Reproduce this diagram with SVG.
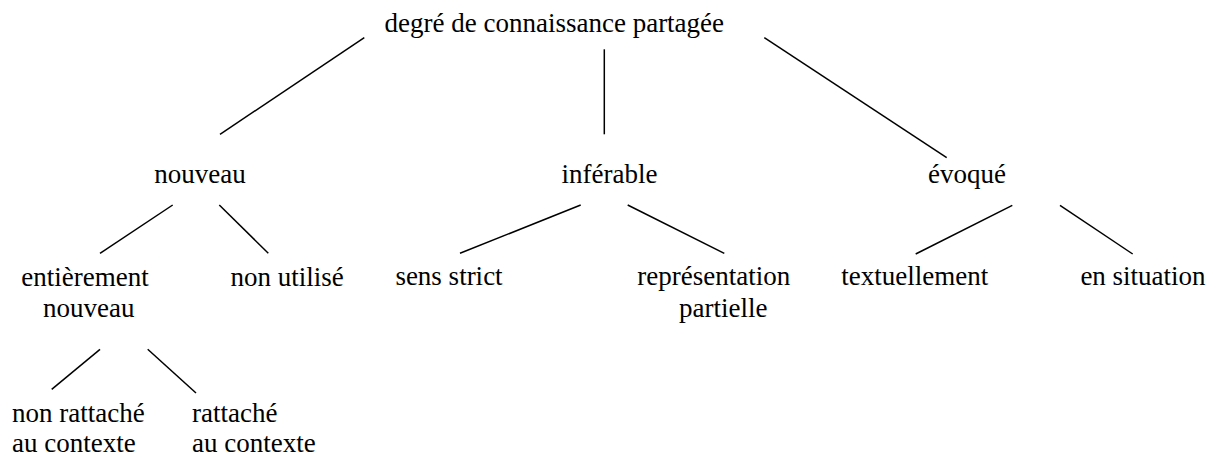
<svg xmlns="http://www.w3.org/2000/svg" width="1222" height="458" viewBox="0 0 1222 458">
<style>
text{font-family:'Liberation Serif','Times New Roman',serif;font-size:27px;fill:#000}
.m{text-anchor:middle}
.c line{stroke:#000;stroke-width:1.5;fill:none}
</style>
<rect width="1222" height="458" fill="#fff"/>
<g class="c" id="connectors">
<line x1="364.3" y1="37.7" x2="220" y2="134.3"/>
<line x1="604.3" y1="49.3" x2="604.3" y2="134.3"/>
<line x1="764.3" y1="37.7" x2="946.7" y2="157.7"/>
<line x1="172.7" y1="205" x2="100" y2="253.3"/>
<line x1="219.3" y1="205" x2="268.3" y2="253.3"/>
<line x1="580.7" y1="205" x2="460" y2="253.3"/>
<line x1="627.7" y1="205" x2="724.3" y2="253.3"/>
<line x1="1012.3" y1="205.3" x2="915.7" y2="254"/>
<line x1="1060" y1="205.3" x2="1132.7" y2="254"/>
<line x1="100" y1="349.3" x2="51.7" y2="389.3"/>
<line x1="147.7" y1="349.3" x2="196" y2="393"/>
</g>
<g id="root"><text class="m" x="554.3" y="32">degré de connaissance partagée</text></g>
<g id="nouveau"><text class="m" x="200" y="183">nouveau</text></g>
<g id="inferable"><text class="m" x="609.5" y="183">inférable</text></g>
<g id="evoque"><text class="m" x="967" y="183">évoqué</text></g>
<g id="entierement"><text class="m" x="85" y="286">entièrement</text><text class="m" x="88.8" y="317">nouveau</text></g>
<g id="nonutilise"><text class="m" x="287" y="286">non utilisé</text></g>
<g id="sensstrict"><text class="m" x="449" y="285">sens strict</text></g>
<g id="representation"><text class="m" x="713.7" y="285">représentation</text><text class="m" x="723.3" y="317">partielle</text></g>
<g id="textuellement"><text class="m" x="914.7" y="285">textuellement</text></g>
<g id="ensituation"><text class="m" x="1143" y="285">en situation</text></g>
<g id="nonrattache"><text x="12" y="422">non rattaché</text><text x="12" y="452">au contexte</text></g>
<g id="rattache"><text x="192" y="422">rattaché</text><text x="192" y="452">au contexte</text></g>
</svg>
